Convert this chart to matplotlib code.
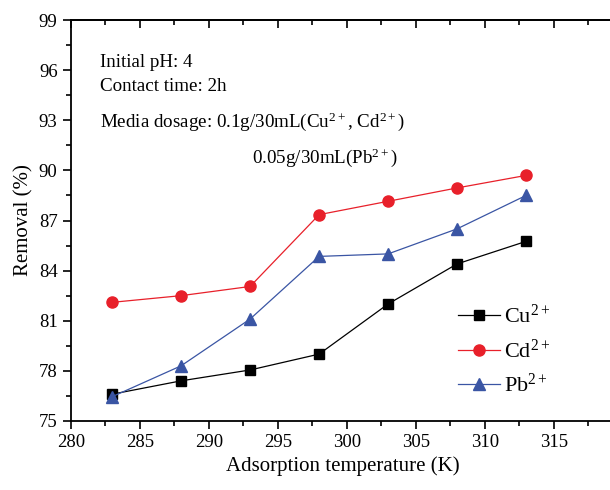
import matplotlib.pyplot as plt
import numpy as np
from matplotlib.ticker import MultipleLocator

plt.rcParams['font.family'] = ['Liberation Serif', 'DejaVu Serif']
plt.rcParams['mathtext.fontset'] = 'custom'
plt.rcParams['mathtext.rm'] = 'Liberation Serif'
plt.rcParams['mathtext.it'] = 'Liberation Serif'

# data
temp = [283, 288, 293, 298, 303, 308, 313]
cu = [76.6, 77.4, 78.05, 79.0, 82.0, 84.4, 85.75]
cd = [82.1, 82.5, 83.05, 87.35, 88.15, 88.95, 89.7]
pb = [76.45, 78.3, 81.1, 84.85, 85.0, 86.5, 88.5]

fig = plt.figure(figsize=(6.1, 4.9), dpi=100)
# axes run a little past the right edge of the canvas (cropped like the original)
ax = fig.add_axes([0.116, 0.141, 0.8934, 0.818])

ax.plot(temp, cu, color='black', marker='s', markersize=7, linewidth=0.9, label='Cu$^{2+}$')
ax.plot(temp, cd, color='#e8202a', marker='o', markersize=8, linewidth=0.9, label='Cd$^{2+}$')
ax.plot(temp, pb, color='#3a55a4', marker='^', markersize=9, linewidth=0.9, label='Pb$^{2+}$')

ax.set_xlim(280, 319.5)
ax.set_ylim(75, 99)
ax.xaxis.set_major_locator(MultipleLocator(5))
ax.xaxis.set_minor_locator(MultipleLocator(2.5))
ax.yaxis.set_major_locator(MultipleLocator(3))
ax.yaxis.set_minor_locator(MultipleLocator(1.5))
ax.tick_params(which='both', direction='out', labelsize=13.5, width=1.2)
ax.tick_params(which='major', length=6)
ax.tick_params(which='minor', length=3.5)
for s in ax.spines.values():
    s.set_linewidth(1.3)

# inward ticks along the top
top = ax.secondary_xaxis('top')
top.xaxis.set_major_locator(MultipleLocator(5))
top.xaxis.set_minor_locator(MultipleLocator(2.5))
top.tick_params(which='both', direction='in', labeltop=False, width=1.2)
top.tick_params(which='major', length=6)
top.tick_params(which='minor', length=3.5)
top.spines['top'].set_linewidth(1.3)

ax.set_xlabel('Adsorption temperature (K)', fontsize=15)
ax.set_ylabel('Removal (%)', fontsize=15)

fs = 13.7
ax.text(0.053, 0.895, 'Initial pH: 4', transform=ax.transAxes, fontsize=fs, va='center')
ax.text(0.053, 0.835, 'Contact time: 2h', transform=ax.transAxes, fontsize=fs, va='center')
ax.text(0.053, 0.746, 'Media dosage: 0.1g/30mL(Cu$^{2+}$, Cd$^{2+}$)', transform=ax.transAxes,
        fontsize=fs, va='center')
ax.text(0.332, 0.656, '0.05g/30mL(Pb$^{2+}$)', transform=ax.transAxes, fontsize=fs, va='center')

ax.legend(loc='center left', bbox_to_anchor=(0.71, 0.175), frameon=False, fontsize=16,
          handlelength=1.9, labelspacing=0.5, handletextpad=0.2, borderpad=0, borderaxespad=0)

fig.savefig('out.png', dpi=100)
